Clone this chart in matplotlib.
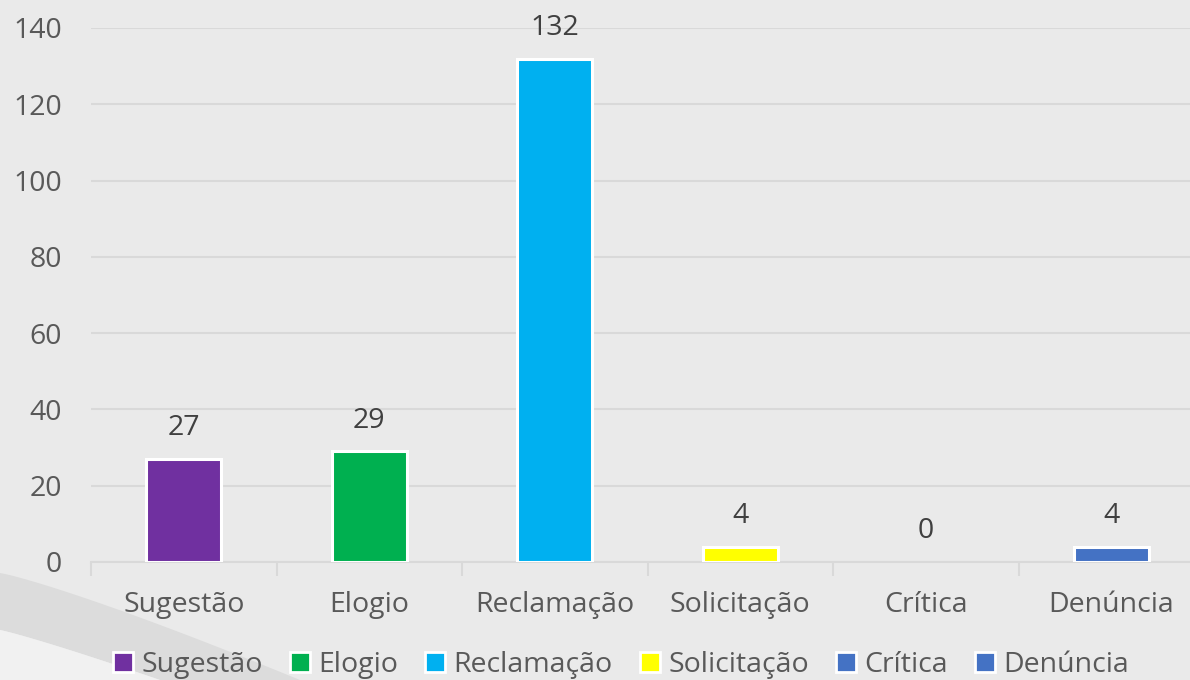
import numpy as np
import matplotlib

matplotlib.use("Agg")
import matplotlib.pyplot as plt
from matplotlib.patches import Patch, Polygon

categories = ["Sugestão", "Elogio", "Reclamação", "Solicitação", "Crítica", "Denúncia"]
values = [27, 29, 132, 4, 0, 4]
colors = ["#7030A0", "#00B050", "#00B0F0", "#FFFF00", "#4472C4", "#4472C4"]
yticks = [0, 20, 40, 60, 80, 100, 120, 140]

plt.rcParams["font.family"] = ["Open Sans", "DejaVu Sans"]
BG = "#EAEAEA"
FS = 20.5

fig = plt.figure(figsize=(11.9, 6.8), dpi=100, facecolor=BG)

# decorative swoosh in the lower-left corner
bg = fig.add_axes([0, 0, 1, 1], zorder=-5)
bg.set_xlim(0, 1190); bg.set_ylim(680, 0); bg.axis("off")
t = np.linspace(0, 1, 60)
up_x, up_y = 300 * t, 573 + 107 * t ** 1.15
lo_x, lo_y = 160 * t, 630 + 50 * t ** 1.1
bg.add_patch(Polygon(np.r_[np.c_[up_x, up_y], np.c_[lo_x, lo_y][::-1]],
                     closed=True, fc="#DCDCDC", ec="none"))
bg.add_patch(Polygon(np.r_[np.c_[lo_x, lo_y], [[0, 680]]],
                     closed=True, fc="#F1F1F1", ec="none"))

ax = fig.add_axes([91 / 1190, 1 - 562 / 680, 1113 / 1190, 534 / 680])
ax.set_facecolor("none")
x = np.arange(len(categories))
bars = ax.bar(x, values, width=0.405, color=colors, edgecolor="white",
              linewidth=[2.2 if v else 0 for v in values], zorder=3)
ax.bar_label(bars, labels=[str(v) for v in values], padding=12,
             fontsize=FS, color="#404040")

ax.set_xlim(-0.5, len(categories) - 0.5)
ax.set_ylim(0, 140)
ax.set_yticks(yticks)
ax.set_xticks(x)
ax.set_xticklabels(categories)
ax.set_xticks(np.arange(len(categories) + 1) - 0.5, minor=True)
ax.tick_params(axis="y", length=0, pad=21, labelsize=FS, labelcolor="#595959")
ax.tick_params(axis="x", which="major", length=0, pad=21, labelsize=FS,
               labelcolor="#595959")
ax.tick_params(axis="x", which="minor", length=10, width=1.5, color="#D9D9D9")
ax.yaxis.grid(True, color="#D9D9D9", linewidth=1.5, zorder=0)
for s in ("top", "right", "left"):
    ax.spines[s].set_visible(False)
ax.spines["bottom"].set_color("#D9D9D9")
ax.spines["bottom"].set_linewidth(1.5)

handles = [Patch(facecolor=c, edgecolor="white", linewidth=2, label=l)
           for c, l in zip(colors, categories)]
fig.legend(handles=handles, loc="center", bbox_to_anchor=(0.522, 0.022),
           ncol=6, frameon=False, fontsize=FS, labelcolor="#595959",
           handlelength=0.7, handleheight=0.7, handletextpad=0.3,
           columnspacing=0.95)

fig.savefig("out.png", dpi=100, facecolor=BG)
